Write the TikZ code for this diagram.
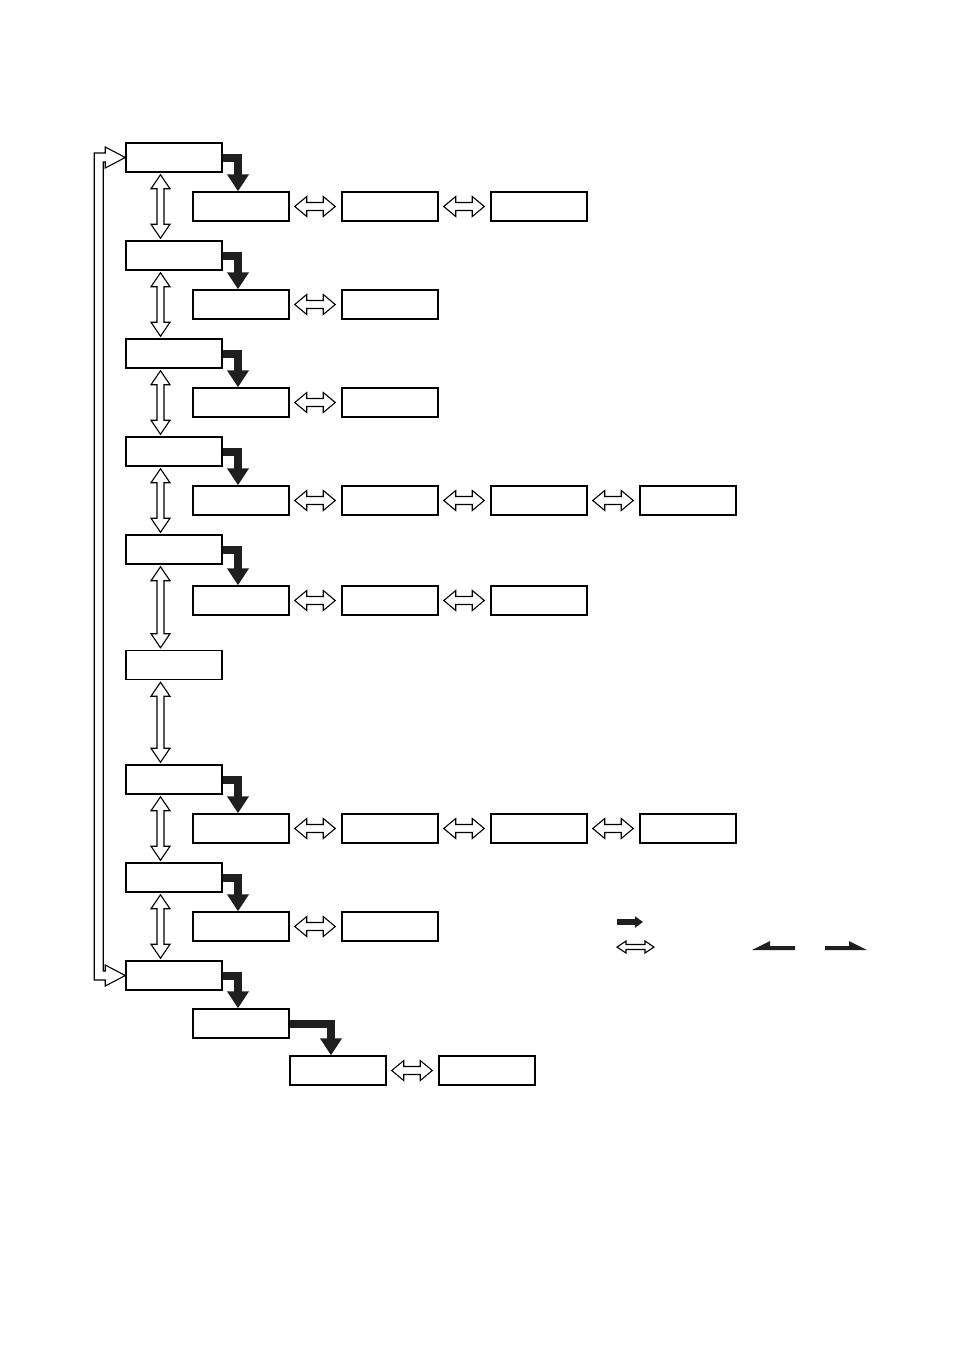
\documentclass[tikz,border=0pt]{standalone}
\usetikzlibrary{arrows.meta,calc}
\tikzset{
  box/.style={draw,line width=1.5pt,minimum width=96pt,minimum height=29pt,inner sep=0pt},
  bendarr/.style={line width=8pt,black!88,-{Triangle[width=21pt,length=17pt]}},
  hollow/.style={draw,line width=1.1pt,line join=miter,fill=white},
  % hollow double arrows, left-right and up-down
  hdbl/.style={hollow,to path={let \p1=(\tikztostart),\p2=(\tikztotarget) in
    (\x1+5pt,\y1) -- (\x1+17pt,\y1+10pt) -- (\x1+17pt,\y1+4pt) -- (\x2-18pt,\y1+4pt) -- (\x2-18pt,\y1+10pt) -- (\x2-6pt,\y1)
    -- (\x2-18pt,\y1-10pt) -- (\x2-18pt,\y1-4pt) -- (\x1+17pt,\y1-4pt) -- (\x1+17pt,\y1-10pt) -- cycle}},
  vdbl/.style={hollow,to path={let \p1=(\tikztostart),\p2=(\tikztotarget) in
    (\x1-13.5pt,\y1-2pt) -- (\x1-4pt,\y1-16pt) -- (\x1-10pt,\y1-16pt) -- (\x1-10pt,\y2+16pt) -- (\x1-4pt,\y2+16pt) -- (\x1-13.5pt,\y2+2pt)
    -- (\x1-23pt,\y2+16pt) -- (\x1-17pt,\y2+16pt) -- (\x1-17pt,\y1-16pt) -- (\x1-23pt,\y1-16pt) -- cycle}}
}
\begin{document}
\begin{tikzpicture}[x=1pt,y=-1pt]
  \useasboundingbox (0,0) rectangle (954,1357);

  % main column
  \foreach \i/\y in {1/157.5,2/255.5,3/353.5,4/451.5,5/549.5,6/665,7/779.5,8/877.5,9/975.5}
    \node[box] (m\i) at (174,\y) {};
  \foreach \i [remember=\i as \j (initially 1)] in {2,...,9}
    \draw[vdbl] (m\j.south) to (m\i.north);

  % rows
  \foreach \r/\y/\n in {1/206.5/3,2/304.5/2,3/402.5/2,4/500.5/4,5/600.5/3,7/828.5/4,8/926.5/2}{
    \foreach \k in {1,...,\n}
      \node[box] (s\r-\k) at ({92+149*\k},\y) {};
    \foreach \k [remember=\k as \j (initially 1)] in {2,...,\n}
      \draw[hdbl] (s\r-\j.east) to (s\r-\k.west);
    \draw[bendarr] (m\r.east) -| ([xshift=-3pt]s\r-1.north);
  }

  \node[box] (s9-1) at (241,1023.5) {};
  \node[box] (t1) at (338,1070.5) {};
  \node[box] (t2) at (487,1070.5) {};
  \draw[bendarr] (m9.east) -| ([xshift=-3pt]s9-1.north);
  \draw[bendarr] (s9-1.east) -| ([xshift=-7pt]t1.north);
  \draw[hdbl] (t1.east) to (t2.west);

  % loop back
  \draw[hollow] let \p1=(m1.west), \p2=(m9.west) in
    (\p1) -- (\x1-20pt,\y1+10.5pt) -- (\x1-20pt,\y1+4.5pt) -- (\x1-31pt,\y1+4.5pt) -- (\x2-31pt,\y2-4.5pt)
    -- (\x2-20pt,\y2-4.5pt) -- (\x2-20pt,\y2-10.5pt) -- (\p2) -- (\x2-20pt,\y2+10.5pt) -- (\x2-20pt,\y2+4.5pt)
    -- (\x2-22pt,\y2+4.5pt) -- (\x1-22pt,\y1-4.5pt) -- (\x1-20pt,\y1-4.5pt) -- (\x1-20pt,\y1-10.5pt) -- cycle;

  % legend
  \draw[line width=6pt,black!88,-{Triangle[width=11pt,length=8pt]}] (617,922) -- (643,922);
  \draw[hollow] (617,947) -- (626,941) -- (626,944.5) -- (645,944.5) -- (645,941) -- (654,947)
    -- (645,953) -- (645,949.5) -- (626,949.5) -- (626,953) -- cycle;
  \fill[black!88] (752,950) -- (770,941) -- (770,946) -- (795,946) -- (795,950) -- cycle;
  \fill[black!88] (867,950) -- (849,941) -- (849,946) -- (825,946) -- (825,950) -- cycle;
\end{tikzpicture}
\end{document}
